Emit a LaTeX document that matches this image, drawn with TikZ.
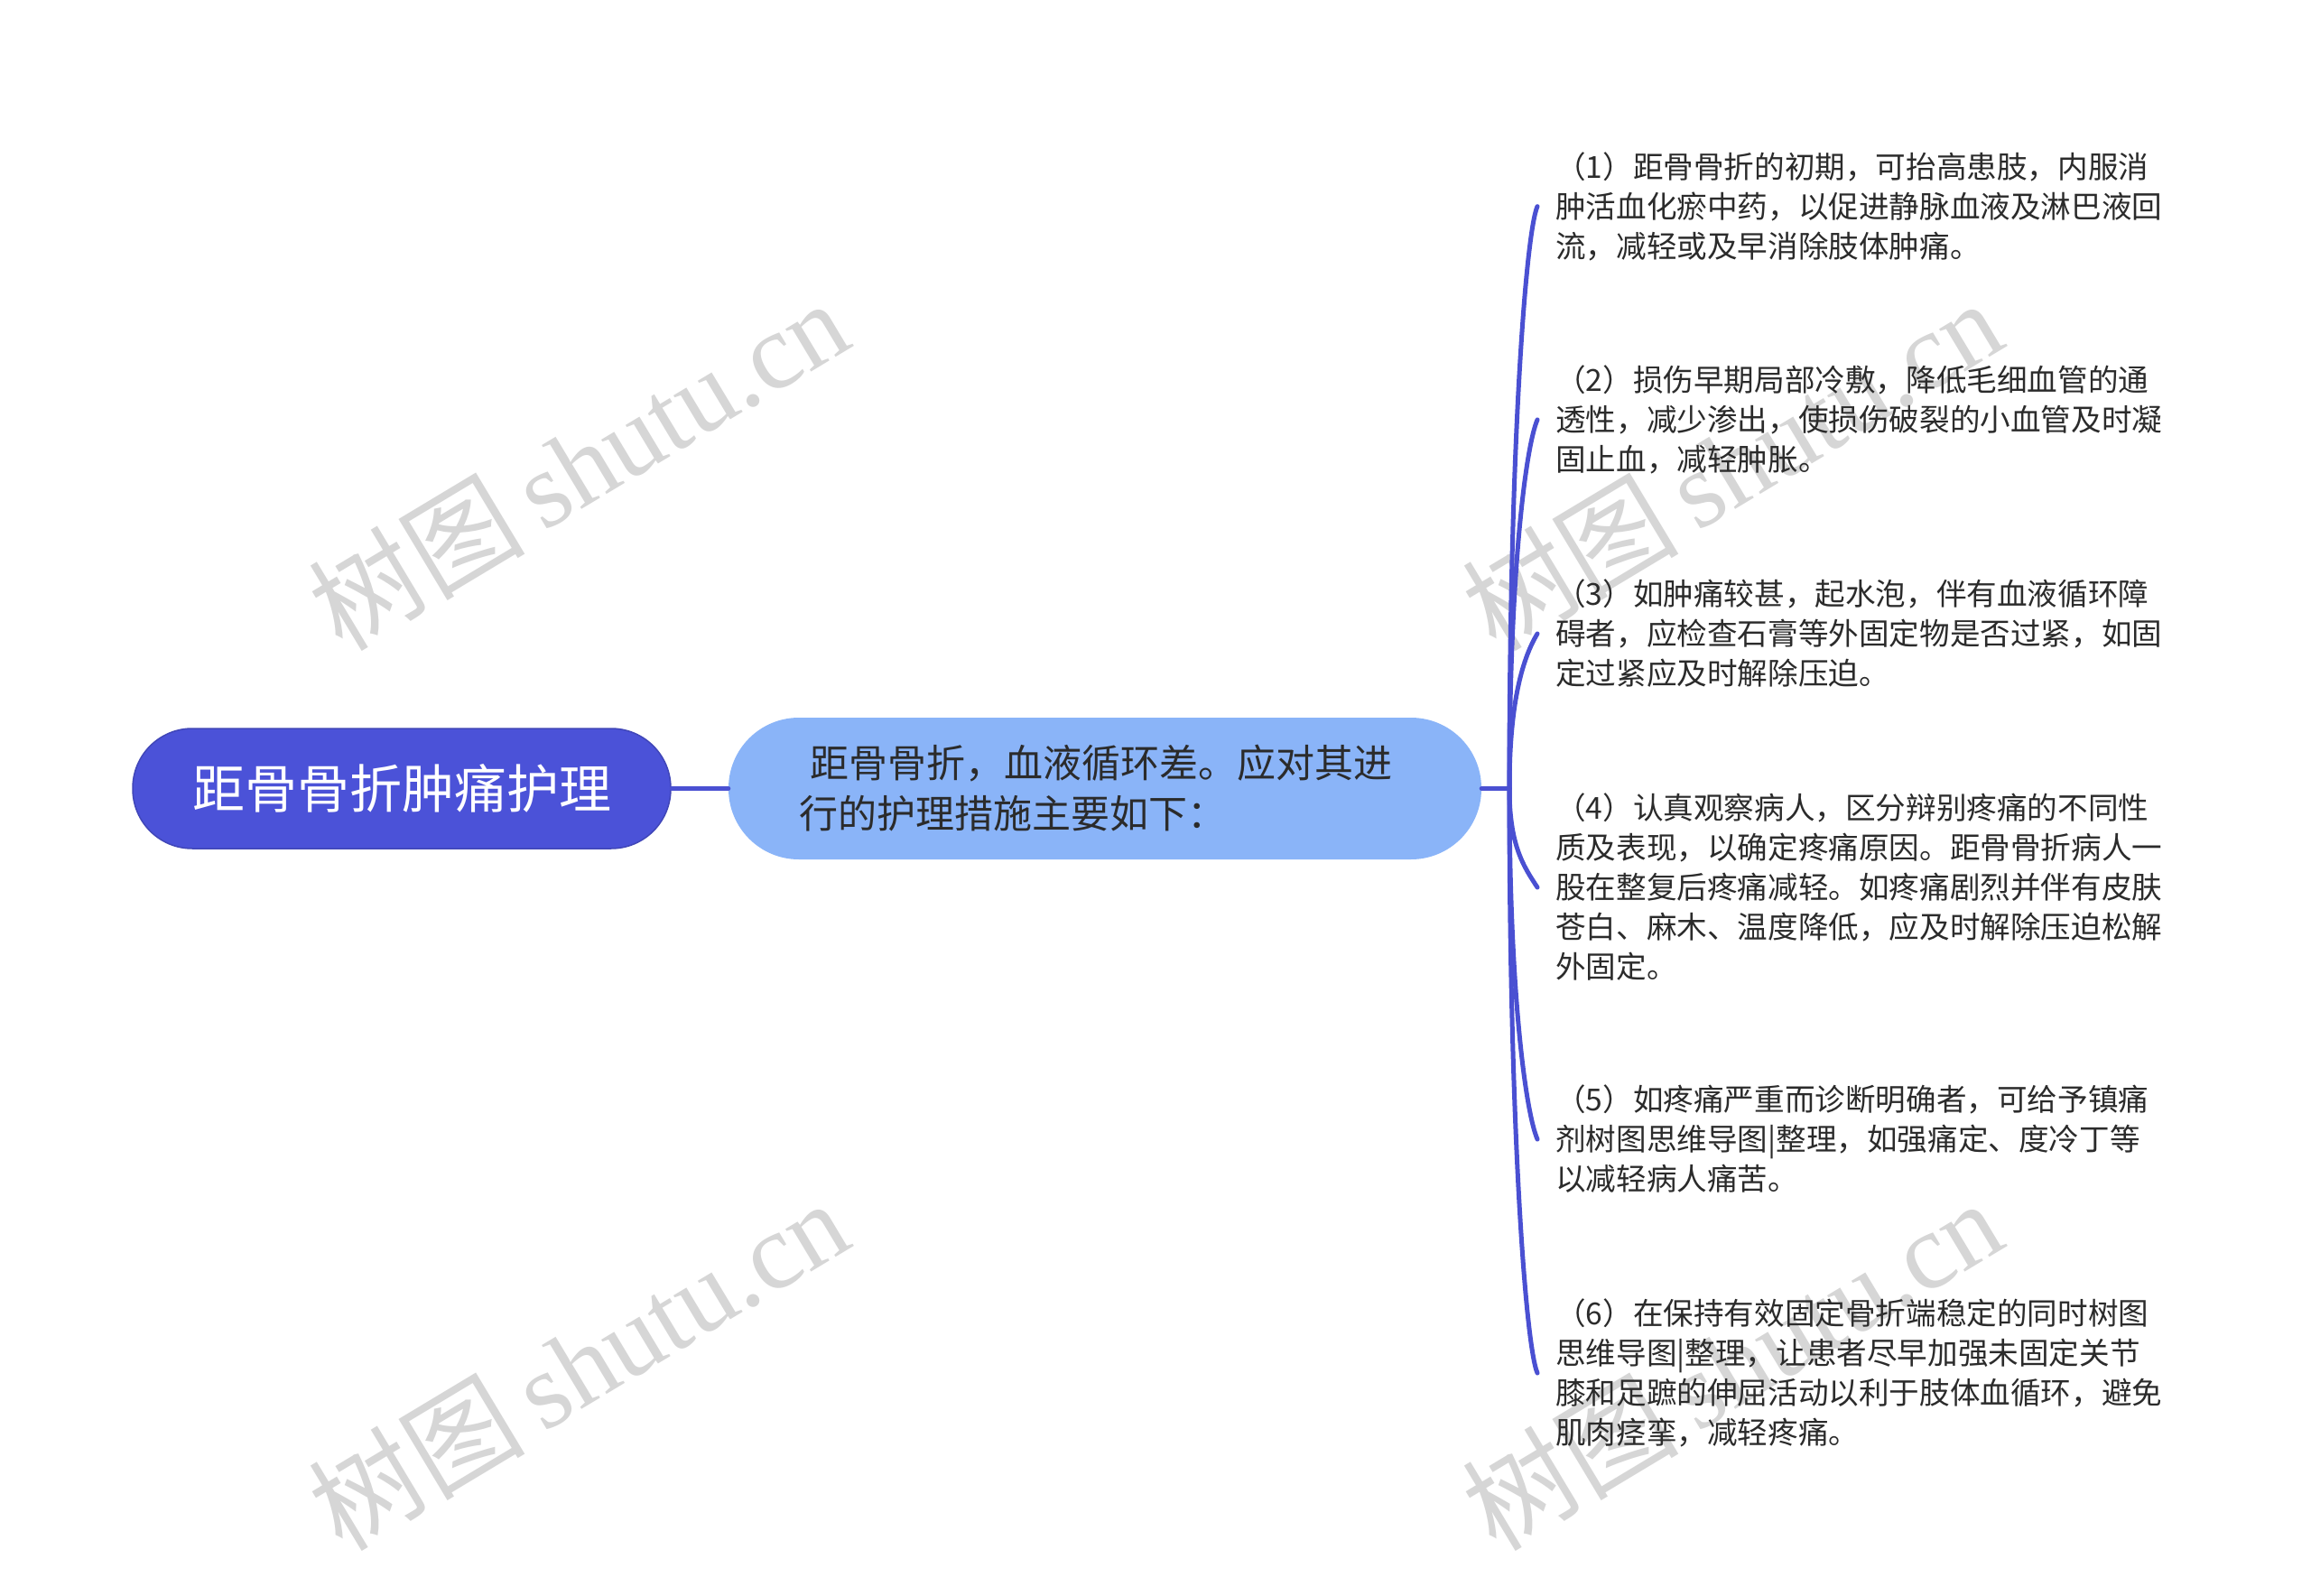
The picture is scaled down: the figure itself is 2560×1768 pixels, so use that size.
\documentclass[tikz,border=0pt]{standalone}
\usepackage{fontspec}
\setmainfont{Noto Sans CJK SC}
\newfontfamily\wmcjk{Noto Sans CJK SC}
\newfontfamily\wmlat{Liberation Serif}
\definecolor{rootc}{HTML}{4B52D8}
\definecolor{midc}{HTML}{8AB4F8}
\definecolor{linec}{HTML}{4A50D2}
\definecolor{txtc}{HTML}{2B2B2B}
\definecolor{wmc}{HTML}{D6D6D6}
\begin{document}
\begin{tikzpicture}[x=1pt,y=-1pt,
  rootbox/.style={fill=rootc, draw=rootc!85!black, line width=1.5pt, rounded corners=66pt,
    minimum width=596pt, minimum height=133pt, inner sep=0pt, text=white,
    font=\fontsize{58}{70}\selectfont},
  midbox/.style={fill=midc, draw=none, rounded corners=78pt, minimum width=834pt,
    minimum height=157pt, inner sep=0pt, align=left, text=txtc,
    font=\fontsize{43}{56}\selectfont},
  leaf/.style={anchor=west, inner xsep=20pt, inner ysep=0pt, align=left, text=txtc,
    font=\fontsize{33.6}{44}\selectfont},
  conn/.style={draw=linec, line width=5pt, line cap=round},
  watermark/.style={text=wmc, rotate=31, inner sep=0pt}
]
\useasboundingbox (0,0) rectangle (2560,1768);
\fill[white] (0,0) rectangle (2560,1768);

% watermarks
\foreach \wx/\wy/\wn in {640/514/wa, 640/1511/wb, 1918/514/wc, 1918/1511/wd}{
  \node[watermark] (\wn) at (\wx,\wy) {\fontsize{120}{125}\selectfont\wmcjk 树图\,\wmlat shutu.cn};
}

\node[rootbox] (root) at (445,873.5) {距骨骨折肿痛护理};
\node[midbox] (mid) at (1224,873.5) {\hspace*{0.3em}距骨骨折，血液循环差。应对其进\kern20pt\null\\行的护理措施主要如下：};

\node[leaf] (c1) at (1703,228.6) {（1）距骨骨折的初期，可抬高患肢，内服消\\肿活血化瘀中药，以促进静脉血液及淋巴液回\\流，减轻或及早消除肢体肿痛。};
\node[leaf] (c2) at (1703,465) {（2）损伤早期局部冷敷，降低毛细血管的通\\透性，减少渗出，使损伤破裂的小血管及时凝\\固止血，减轻肿胀。};
\node[leaf] (c3) at (1703,702) {（3）如肿痛较甚，起水泡，伴有血液循环障\\碍者，应检查石膏等外固定物是否过紧，如固\\定过紧应及时解除压迫。};
\node[leaf] (c4) at (1703,983) {（4）认真观察病人，区分辩别疼痛的不同性\\质及表现，以确定疼痛原因。距骨骨折病人一\\股在整复后疼痛减轻。如疼痛剧烈并伴有皮肤\\苍白、麻木、温度降低，应及时解除压迫松解\\外固定。};
\node[leaf] (c5) at (1703,1262) {（5）如疼痛严重而诊断明确者，可给予镇痛\\剂树图思维导图|整理，如强痛定、度冷丁等\\以减轻病人痛苦。};
\node[leaf] (c6) at (1703,1521) {（6）在保持有效固定骨折端稳定的同时树图\\思维导图|整理，让患者尽早加强未固定关节\\膝和足蹠的伸屈活动以利于肢体血循环，避免\\肌肉痉挛，减轻疼痛。};

\coordinate (fork) at (1672,873.5);
\draw[conn] (root.east) -- (mid.west);
\draw[conn] (mid.east) -- (fork);
\draw[conn] (fork) .. controls (1672,499) and (1690,258.6) .. (c1.west);
\draw[conn] (fork) .. controls (1672,636) and (1690,495) .. (c2.west);
\draw[conn] (fork) .. controls (1672,774) and (1688,727) .. (c3.west);
\draw[conn] (fork) .. controls (1672,937) and (1688,960) .. (c4.west);
\draw[conn] (fork) .. controls (1672,1099) and (1690,1232) .. (c5.west);
\draw[conn] (fork) .. controls (1672,1249) and (1690,1491) .. (c6.west);
\end{tikzpicture}
\end{document}
